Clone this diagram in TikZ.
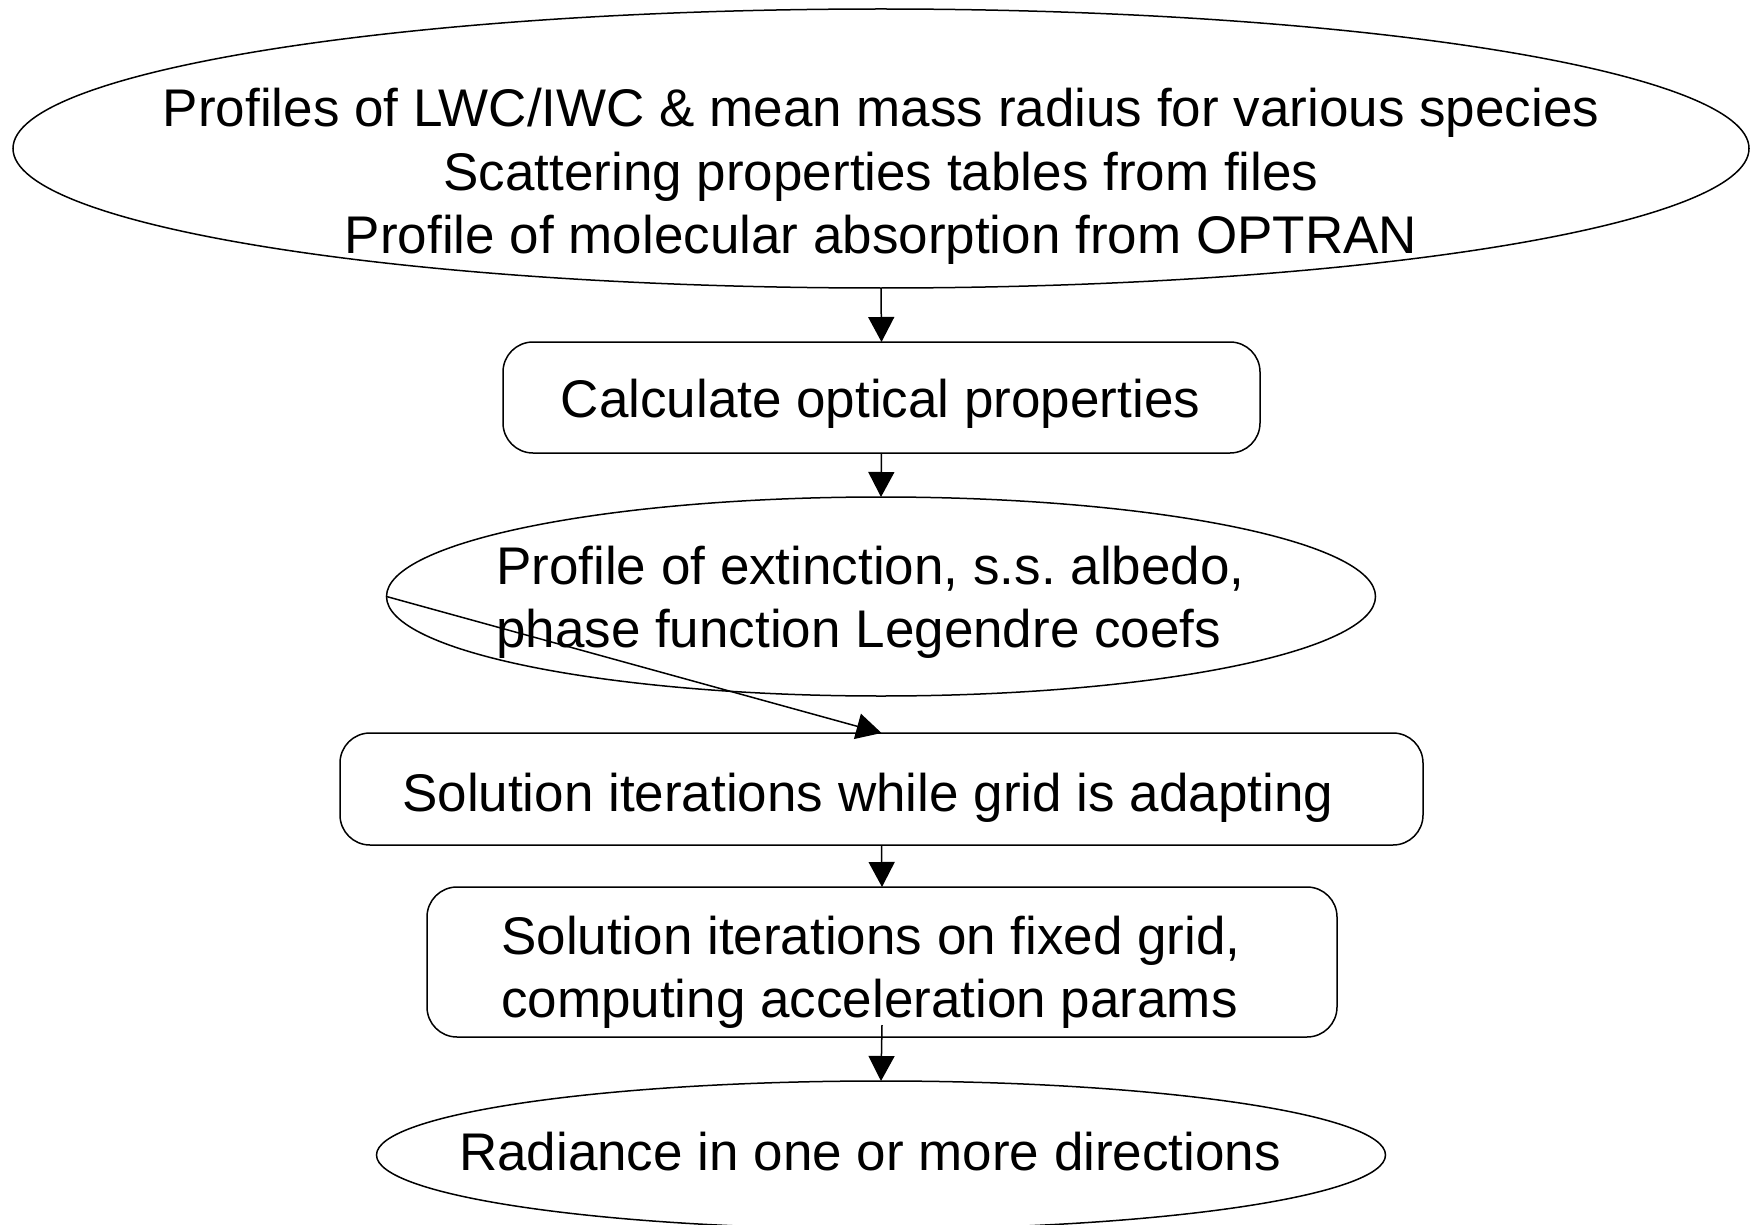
\documentclass[tikz,border=0pt]{standalone}
\usepackage{fontspec}
\setmainfont{Liberation Sans}
\usetikzlibrary{shapes.geometric,arrows.meta}
\frenchspacing
\begin{document}
\begin{tikzpicture}[x=1pt,y=-1pt,
  shp/.style={draw=black,line width=1.5pt,inner sep=0pt,outer sep=0pt},
  oval/.style={shp,ellipse},
  rbox/.style={shp,rectangle,rounded corners=30pt},
  txt/.style={inner sep=0pt,font=\fontsize{53}{63.5}\selectfont},
  flow/.style={line width=1.5pt,-{Triangle[width=26pt,length=25pt]}}]
\useasboundingbox (0,0) rectangle (1751,1225);

% shapes of the flow chart
\node[oval,minimum width=1736pt,minimum height=279pt] (e1) at (881,148.5) {};
\node[rbox,minimum width=757pt,minimum height=111pt] (b1) at (881.5,397.5) {};
\node[oval,minimum width=989pt,minimum height=199pt] (e2) at (881,596.5) {};
\node[rbox,minimum width=1083pt,minimum height=112pt] (b2) at (881.5,789) {};
\node[rbox,minimum width=910pt,minimum height=150pt] (b3) at (882,962) {};
\node[oval,minimum width=1009pt,minimum height=148pt] (e3) at (881,1155) {};

% texts
\node[txt,align=center] (t1) at (881,176.5) {Profiles of LWC/IWC \& mean mass radius for various species\\Scattering properties tables from files\\Profile of molecular absorption from OPTRAN};
\node[txt] (t2) at (880.5,403.5) {Calculate optical properties};
\node[txt,align=left,anchor=west] (t3) at (496,602.5) {Profile of extinction, s.s. albedo,\\phase function Legendre coefs};
\node[txt,anchor=west] (t4) at (402,797.5) {Solution iterations while grid is adapting};
\node[txt,align=left,anchor=west] (t5) at (501,972.5) {Solution iterations on fixed grid,\\computing acceleration params};
\node[txt] (t6) at (870,1152) {Radiance in one or more directions};

% connectors
\draw[flow] (e1.south) -- (b1.north);
\draw[flow] (b1.south) -- (e2.north);
\draw[flow] (e2.west) -- (b2.north);
\draw[flow] (b2.south) -- (b3.north);
\draw[flow] ([yshift=12pt]b3.south) -- (e3.north);
\end{tikzpicture}
\end{document}
